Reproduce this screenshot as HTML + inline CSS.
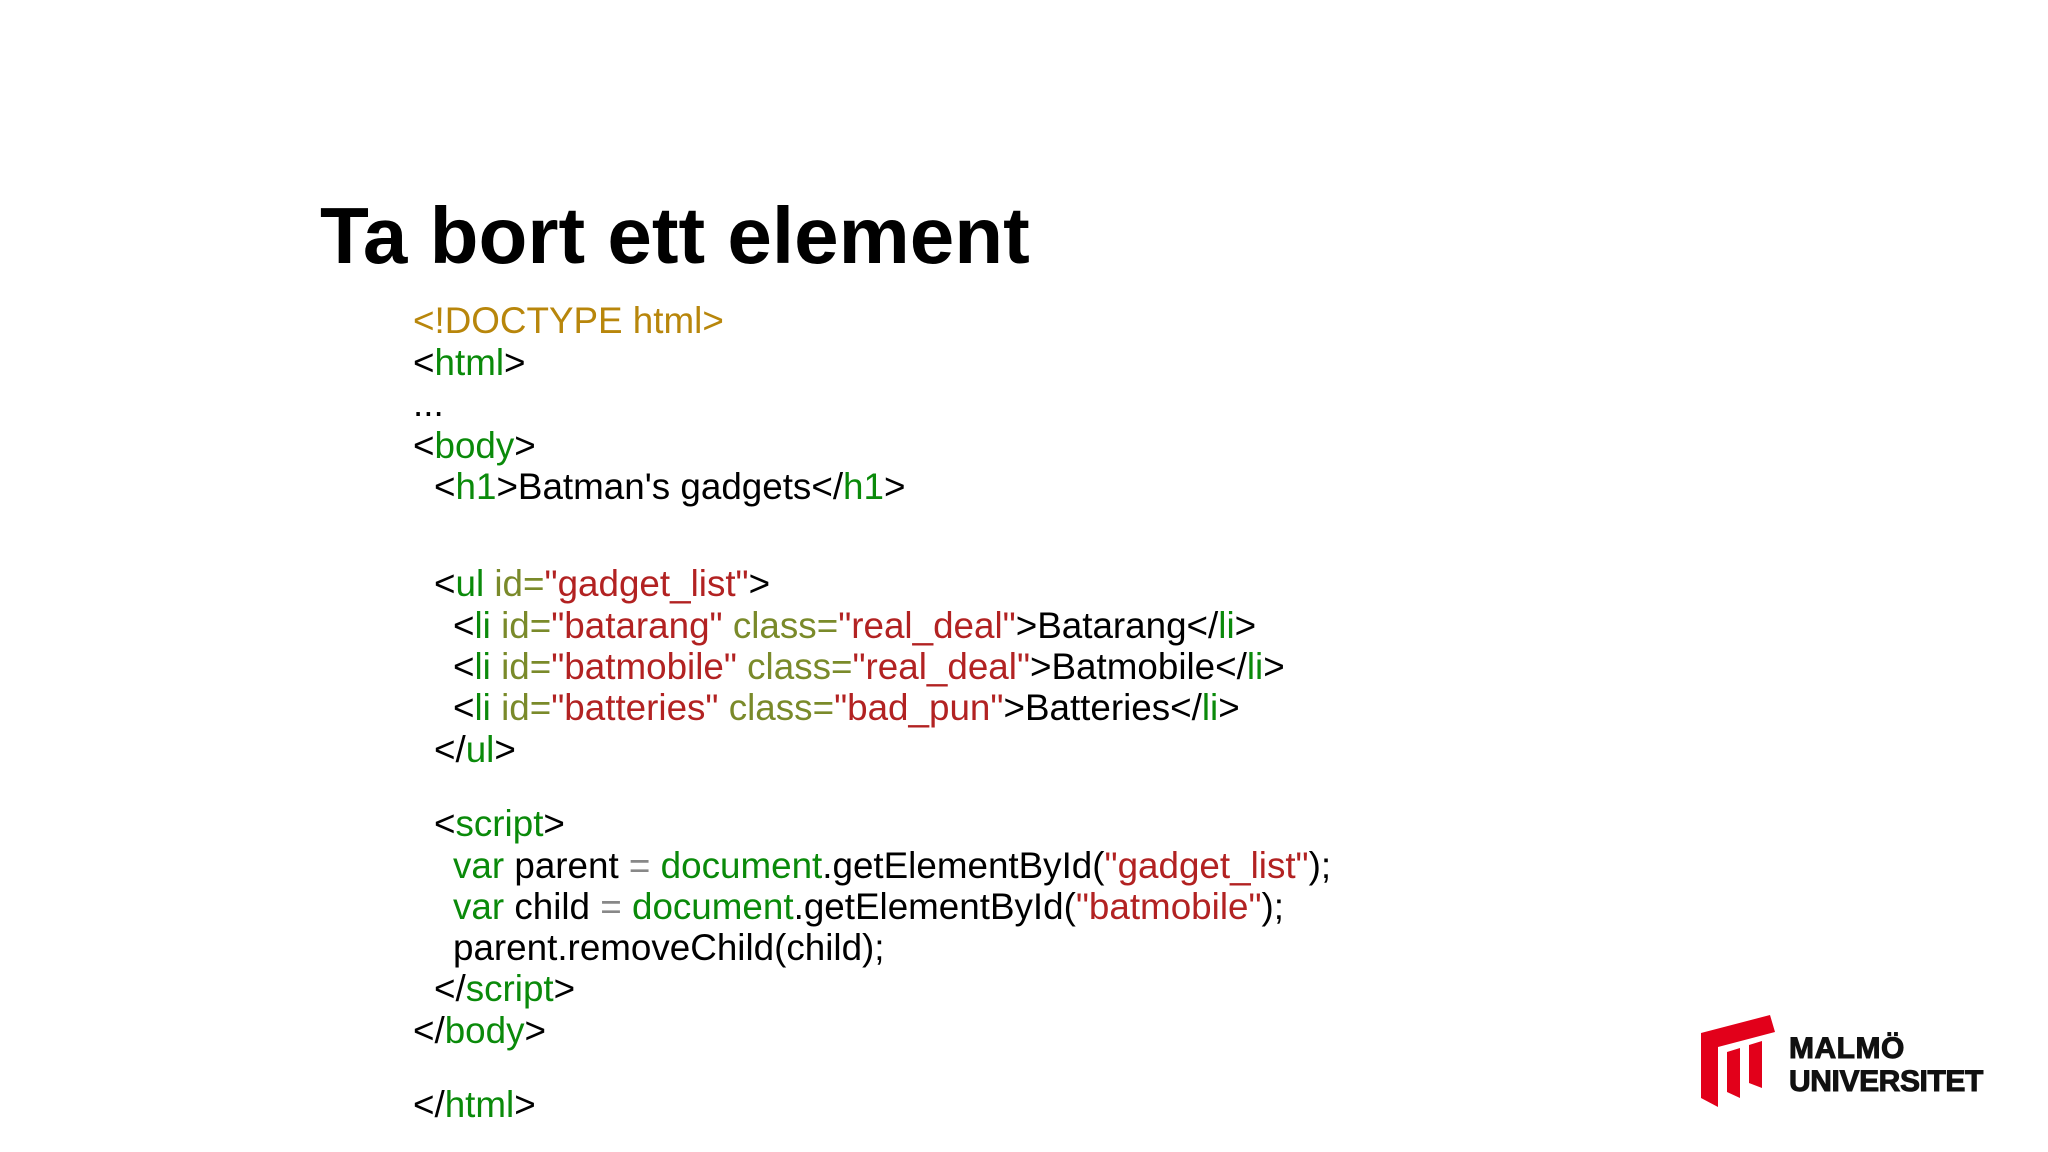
<!DOCTYPE html>
<html><head><meta charset="utf-8"><style>
html,body{margin:0;padding:0;background:#fff;}
body{width:2048px;height:1152px;position:relative;overflow:hidden;font-family:"Liberation Sans",sans-serif;}
.t{position:absolute;left:320px;top:186px;font-size:80px;font-weight:bold;color:#000;line-height:100px;white-space:nowrap;}
.l{position:absolute;font-size:36.8px;line-height:36px;white-space:pre;color:#000;}
.o{color:#b8860b}.g{color:#0a8a0a}.r{color:#b22222}.a{color:#7a8a2a}.q{color:#888}
</style></head><body>
<div class="t">Ta bort ett element</div>
<div class="l o" style="left:413px;top:303px">&lt;!DOCTYPE html&gt;</div>
<div class="l" style="left:413px;top:345px">&lt;<span class="g">html</span>&gt;</div>
<div class="l" style="left:413px;top:386px">...</div>
<div class="l" style="left:413px;top:428px">&lt;<span class="g">body</span>&gt;</div>
<div class="l" style="left:434px;top:469px">&lt;<span class="g">h1</span>&gt;Batman's gadgets&lt;/<span class="g">h1</span>&gt;</div>
<div class="l" style="left:434px;top:566px">&lt;<span class="g">ul</span> <span class="a">id=</span><span class="r">"gadget_list"</span>&gt;</div>
<div class="l" style="left:453px;top:608px">&lt;<span class="g">li</span> <span class="a">id=</span><span class="r">"batarang"</span> <span class="a">class=</span><span class="r">"real_deal"</span>&gt;Batarang&lt;/<span class="g">li</span>&gt;</div>
<div class="l" style="left:453px;top:649px">&lt;<span class="g">li</span> <span class="a">id=</span><span class="r">"batmobile"</span> <span class="a">class=</span><span class="r">"real_deal"</span>&gt;Batmobile&lt;/<span class="g">li</span>&gt;</div>
<div class="l" style="left:453px;top:690px">&lt;<span class="g">li</span> <span class="a">id=</span><span class="r">"batteries"</span> <span class="a">class=</span><span class="r">"bad_pun"</span>&gt;Batteries&lt;/<span class="g">li</span>&gt;</div>
<div class="l" style="left:434px;top:732px">&lt;/<span class="g">ul</span>&gt;</div>
<div class="l" style="left:434px;top:806px">&lt;<span class="g">script</span>&gt;</div>
<div class="l" style="left:453px;top:848px"><span class="g">var</span> parent <span class="q">=</span> <span class="g">document</span>.getElementById(<span class="r">"gadget_list"</span>);</div>
<div class="l" style="left:453px;top:889px"><span class="g">var</span> child <span class="q">=</span> <span class="g">document</span>.getElementById(<span class="r">"batmobile"</span>);</div>
<div class="l" style="left:453px;top:930px">parent.removeChild(child);</div>
<div class="l" style="left:434px;top:971px">&lt;/<span class="g">script</span>&gt;</div>
<div class="l" style="left:413px;top:1013px">&lt;/<span class="g">body</span>&gt;</div>
<div class="l" style="left:413px;top:1087px">&lt;/<span class="g">html</span>&gt;</div>
<svg style="position:absolute;left:0;top:0" width="2048" height="1152">
<g fill="#e2001a">
<polygon points="1701,1033 1770,1015 1775,1032 1718,1047 1718,1107 1701,1098"/>
<polygon points="1727,1052 1740,1048 1740,1098 1727,1092"/>
<polygon points="1749,1045 1762,1041 1762,1088 1749,1083"/>
</g>
<text x="1789" y="1058" font-family="Liberation Sans" font-weight="bold" font-size="30" letter-spacing="0.5" fill="#111" stroke="#111" stroke-width="1">MALMÖ</text>
<text x="1789" y="1091" font-family="Liberation Sans" font-weight="bold" font-size="30" letter-spacing="-0.4" fill="#111" stroke="#111" stroke-width="1">UNIVERSITET</text>
</svg>
</body></html>
